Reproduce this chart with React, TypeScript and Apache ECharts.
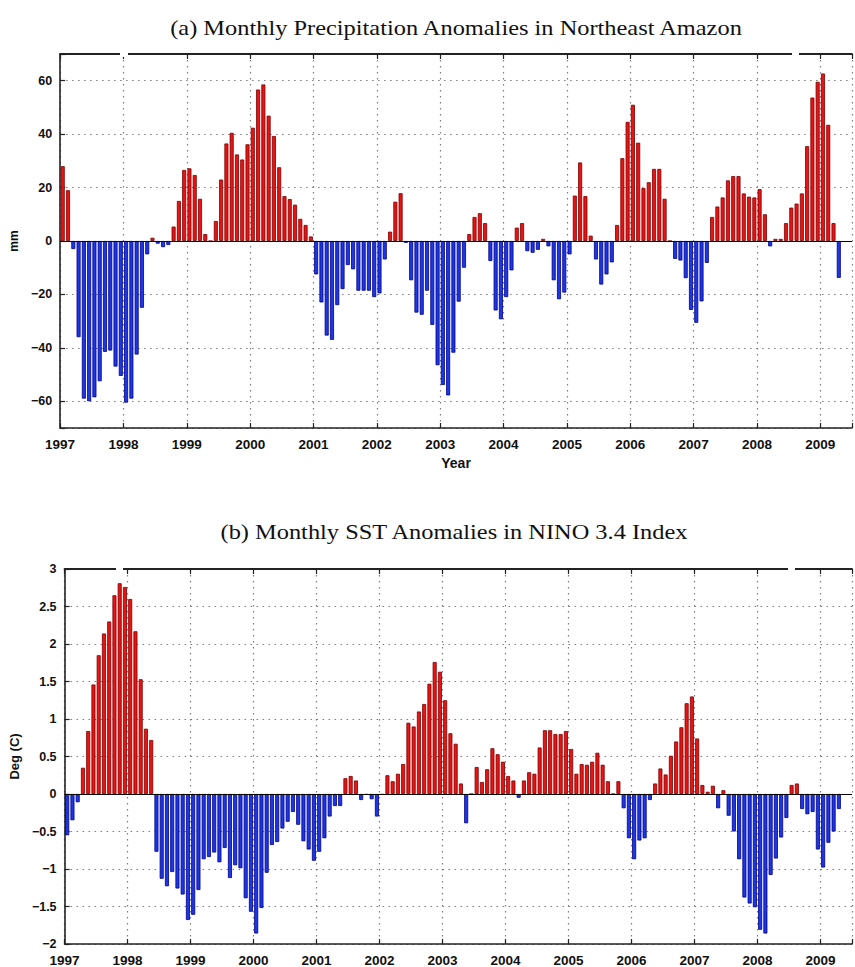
import React, { useEffect, useRef } from 'react';
import * as echarts from 'echarts';

// ---------- data ----------
const START_YEAR = 1997;
const END_AXIS = 2009.5;

const precipTitle = '(a) Monthly Precipitation Anomalies in Northeast Amazon';
const sstTitle = '(b) Monthly SST Anomalies in NINO 3.4 Index';
const precipUnit = 'mm';
const sstUnit = 'Deg (C)';
const xName = 'Year';

// Monthly precipitation anomalies (mm), Jan 1997 - Apr 2009
const precipAnomaly = [
  28, 19, -3, -36, -59, -60, -58.5, -52.5, -41.5, -41, -47, -50.5, // 1997
  -60.5, -59, -42.5, -25, -5, 1.2, -1, -2.3, -1.5, 5.4, 15, 26.6, // 1998
  27.2, 24.7, 15.8, 2.6, 0, 7.5, 23, 36.5, 40.5, 32.4, 30.5, 36.2, // 1999
  42.4, 56.7, 58.6, 46.9, 39.3, 27.6, 16.8, 15.7, 13.6, 8.3, 6, 1.7, // 2000
  -12.5, -23, -35.4, -37, -24, -18, -9, -10.6, -18.6, -18.6, -18.6, -21, // 2001
  -19.6, -6.9, 3.5, 14.7, 17.9, -0.7, -14.7, -26.8, -27.6, -18.6, -31.4, -46.5, // 2002
  -53.9, -57.8, -41.8, -22.7, -10, 2.6, 9, 10.4, 6.7, -7.5, -26, -29.3, // 2003
  -21, -11, 5, 6.7, -3.8, -4.4, -3.3, 0.8, -2, -14.7, -21.8, -19.3, // 2004
  -5, 17, 29.4, 16.8, 2, -6.9, -16.3, -12.5, -8, 6, 31, 44.6, // 2005
  51, 36.8, 19.8, 22, 27, 27, 15.8, 0, -6.7, -7.3, -13.9, -25.8, // 2006
  -30.6, -22.6, -8.2, 9, 12.9, 16.3, 22.7, 24.3, 24.3, 17.8, 16.6, 16.3, // 2007
  19.4, 10, -2, 0.8, 0.8, 6.7, 12.5, 14, 17.8, 35.5, 53.7, 59.6, // 2008
  62.7, 43.5, 6.7, -13.8, // 2009
];

// Monthly SST anomalies in NINO 3.4 (deg C), Jan 1997 - Apr 2009
const sstAnomaly = [
  -0.55, -0.35, -0.11, 0.35, 0.84, 1.46, 1.85, 2.14, 2.3, 2.65, 2.81, 2.76, // 1997
  2.6, 2.17, 1.53, 0.87, 0.72, -0.77, -1.13, -1.23, -1.04, -1.26, -1.34, -1.68, // 1998
  -1.61, -1.28, -0.87, -0.84, -0.78, -0.91, -0.72, -1.12, -0.95, -0.99, -1.39, -1.57, // 1999
  -1.86, -1.52, -1.05, -0.68, -0.64, -0.46, -0.37, -0.24, -0.41, -0.63, -0.74, -0.89, // 2000
  -0.77, -0.59, -0.3, -0.16, -0.16, 0.21, 0.24, 0.18, -0.08, -0.01, -0.07, -0.3, // 2001
  -0.01, 0.25, 0.17, 0.27, 0.4, 0.95, 0.9, 1.1, 1.2, 1.47, 1.76, 1.63, // 2002
  1.25, 0.81, 0.67, 0.14, -0.39, 0, 0.36, 0.16, 0.33, 0.61, 0.53, 0.43, // 2003
  0.24, 0.18, -0.05, 0.18, 0.29, 0.27, 0.62, 0.85, 0.85, 0.8, 0.8, 0.84, // 2004
  0.6, 0.27, 0.4, 0.39, 0.43, 0.55, 0.39, 0.17, 0, 0.17, -0.19, -0.59, // 2005
  -0.87, -0.62, -0.59, -0.08, 0.14, 0.34, 0.26, 0.51, 0.7, 0.89, 1.21, 1.3, // 2006
  0.74, 0.12, 0.03, 0.11, -0.19, 0.05, -0.29, -0.5, -0.87, -1.38, -1.46, -1.51, // 2007
  -1.81, -1.86, -1.08, -0.86, -0.58, -0.32, 0.12, 0.14, -0.2, -0.27, -0.24, -0.74, // 2008
  -0.98, -0.65, -0.5, -0.2, // 2009
];

// ---------- styles ----------
const RED_FILL = '#ea1212';
const RED_EDGE = '#7a0000';
const BLUE_FILL = '#1c36e8';
const BLUE_EDGE = '#000080';
const SANS = '"Liberation Sans", Arial, Helvetica, sans-serif';
const SERIF = '"Liberation Serif", "Times New Roman", serif';
const AXIS_COLOR = '#222';

const monthTime = (i: number) => START_YEAR + (i + 0.5) / 12;

const toBars = (values: number[]) =>
  values.map((v, i) => ({
    value: [monthTime(i), v],
    itemStyle: {
      color: v >= 0 ? RED_FILL : BLUE_FILL,
      borderColor: v >= 0 ? RED_EDGE : BLUE_EDGE,
      borderWidth: 0.8,
    },
  }));

const fmtNum = (v: number) => {
  const r = Math.round(v * 100) / 100;
  const s = String(Math.abs(r));
  return r < 0 ? '\u2212' + s : s;
};

const gridLine = {
  show: true,
  lineStyle: { color: '#6e6e6e', width: 1.2, type: [1.5, 4.5] as any, opacity: 0.9 },
};

function xAxesFor(gridIndex: number, name: string) {
  return [
    {
      type: 'value',
      gridIndex,
      min: START_YEAR,
      max: END_AXIS,
      interval: 1,
      position: 'bottom',
      axisLine: { show: true, onZero: false, lineStyle: { color: AXIS_COLOR, width: 1.6 } },
      axisTick: { show: true, inside: true, length: 5, lineStyle: { color: AXIS_COLOR, width: 1.2 } },
      axisLabel: {
        formatter: (v: number) => (Math.abs(v - Math.round(v)) < 1e-6 ? String(Math.round(v)) : ''),
        margin: 9,
        fontSize: 13.5,
        fontWeight: 'bold',
        fontFamily: SANS,
        color: '#111',
      },
      splitLine: gridLine,
      name,
      nameLocation: 'middle',
      nameGap: 28,
      nameTextStyle: { fontSize: 14, fontWeight: 'bold', fontFamily: SANS, color: '#111' },
    },
    {
      type: 'value',
      gridIndex,
      min: START_YEAR,
      max: END_AXIS,
      interval: 1,
      position: 'top',
      axisLine: { show: true, onZero: false, lineStyle: { color: AXIS_COLOR, width: 1.8 } },
      axisTick: { show: true, inside: true, length: 5, lineStyle: { color: AXIS_COLOR, width: 1.2 } },
      axisLabel: { show: false },
      splitLine: { show: false },
    },
  ];
}

const zeroLine = {
  silent: true,
  symbol: ['none', 'none'],
  label: { show: false },
  lineStyle: { color: '#000', width: 1.2, type: 'solid' },
  data: [{ yAxis: 0 }],
};

export default function App() {
  const ref = useRef<HTMLDivElement>(null);

  useEffect(() => {
    if (!ref.current) return;
    const chart = echarts.init(ref.current, undefined, { renderer: 'svg' });
    const option: any = {
      animation: false,
      backgroundColor: '#fff',
      textStyle: { fontFamily: SANS },
      grid: [
        { left: 60, right: -11, top: 54, height: 374 },
        { left: 60, right: -11, top: 569, height: 375 },
      ],
      xAxis: [...xAxesFor(0, xName), ...xAxesFor(1, '')],
      yAxis: [
        {
          type: 'value',
          gridIndex: 0,
          min: -70,
          max: 70,
          splitNumber: 7,
          axisLine: { show: true, onZero: false, lineStyle: { color: AXIS_COLOR, width: 1.6 } },
          axisTick: { show: true, inside: true, length: 5, lineStyle: { color: AXIS_COLOR, width: 1.2 } },
          axisLabel: {
            formatter: (v: number) => (Math.abs(v) > 65 ? '' : fmtNum(v)),
            margin: 8,
            fontSize: 12.5,
            fontWeight: 'bold',
            fontFamily: SANS,
            color: '#111',
          },
          splitLine: gridLine,
          name: precipUnit,
          nameLocation: 'middle',
          nameRotate: 90,
          nameGap: 35,
          nameTextStyle: { fontSize: 12, fontWeight: 'bold', fontFamily: SANS, color: '#111' },
        },
        {
          type: 'value',
          gridIndex: 1,
          min: -2,
          max: 3,
          interval: 0.5,
          axisLine: { show: true, onZero: false, lineStyle: { color: AXIS_COLOR, width: 1.6 } },
          axisTick: { show: true, inside: true, length: 5, lineStyle: { color: AXIS_COLOR, width: 1.2 } },
          axisLabel: {
            formatter: (v: number) => fmtNum(v),
            margin: 8,
            fontSize: 12.5,
            fontWeight: 'bold',
            fontFamily: SANS,
            color: '#111',
          },
          splitLine: gridLine,
          name: sstUnit,
          nameLocation: 'middle',
          nameRotate: 90,
          nameGap: 38,
          nameTextStyle: { fontSize: 13, fontWeight: 'bold', fontFamily: SANS, color: '#111' },
        },
      ],
      series: [
        {
          type: 'bar',
          xAxisIndex: 0,
          yAxisIndex: 0,
          barWidth: 4,
          data: toBars(precipAnomaly),
          markLine: zeroLine,
        },
        {
          type: 'bar',
          xAxisIndex: 2,
          yAxisIndex: 1,
          barWidth: 4,
          data: toBars(sstAnomaly),
          markLine: zeroLine,
        },
      ],
      graphic: [
        {
          type: 'text',
          x: 456,
          y: 28,
          scaleX: 1.22,
          style: {
            text: precipTitle,
            font: '20px ' + SERIF,
            fill: '#111',
            textAlign: 'center',
            textVerticalAlign: 'middle',
            align: 'center',
            verticalAlign: 'middle',
          },
        },
        {
          type: 'text',
          x: 454,
          y: 532,
          scaleX: 1.22,
          style: {
            text: sstTitle,
            font: '20px ' + SERIF,
            fill: '#111',
            textAlign: 'center',
            textVerticalAlign: 'middle',
            align: 'center',
            verticalAlign: 'middle',
          },
        },
        { type: 'rect', z: 100, shape: { x: 120, y: 50, width: 8, height: 7 }, style: { fill: '#fff' } },
        { type: 'rect', z: 100, shape: { x: 792, y: 50, width: 7, height: 7 }, style: { fill: '#fff' } },
        { type: 'rect', z: 100, shape: { x: 116, y: 565, width: 7, height: 7 }, style: { fill: '#fff' } },
        { type: 'rect', z: 100, shape: { x: 788, y: 565, width: 7, height: 7 }, style: { fill: '#fff' } },
      ],
    };
    chart.setOption(option);
    return () => chart.dispose();
  }, []);

  return (
    <div
      ref={ref}
      style={{ position: 'fixed', left: 0, top: 0, width: 855, height: 967, background: '#fff' }}
    />
  );
}
